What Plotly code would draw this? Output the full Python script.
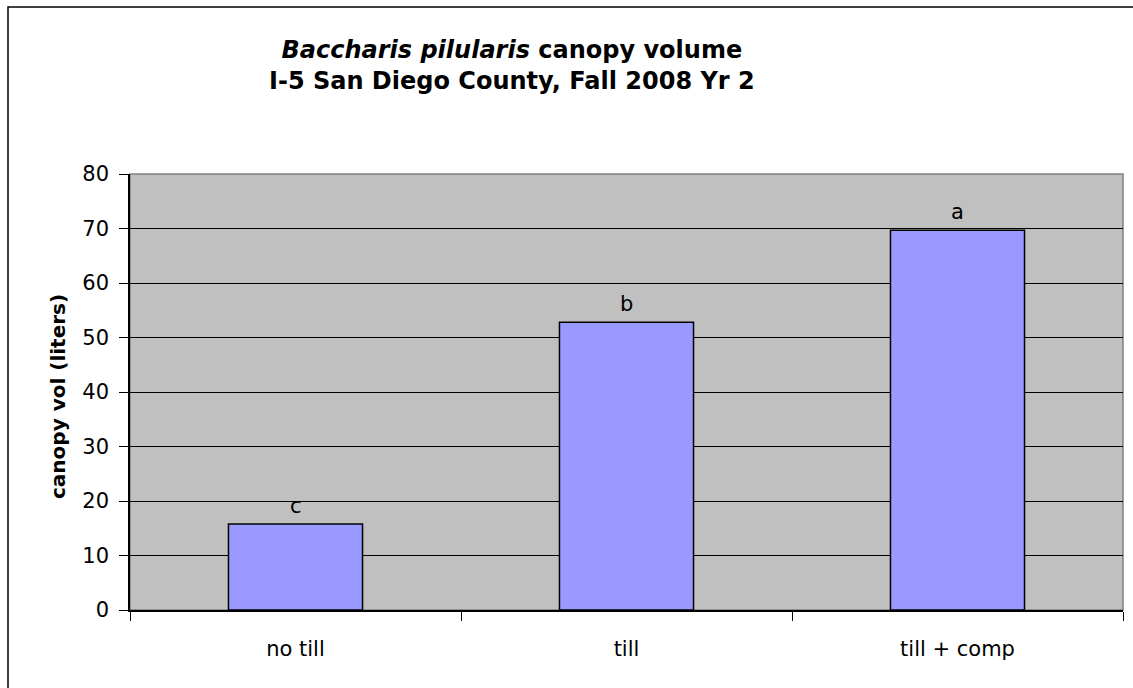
import plotly.graph_objects as go

# canopy volume per treatment
treatments = ["no till", "till", "till + comp"]
canopy_vol = [15.8, 52.8, 69.7]
sig_letters = ["c", "b", "a"]

W, H = 1133, 688
L, R, T, B = 130, 10, 174, 78
FONT = "DejaVu Sans, Liberation Sans, Arial"

fig = go.Figure()
fig.add_trace(go.Bar(
    x=treatments, y=canopy_vol,
    marker=dict(color="#9999FF", line=dict(color="black", width=1.5)),
))

# significance letters over each bar
for cat, val, letter in zip(treatments, canopy_vol, sig_letters):
    fig.add_annotation(x=cat, y=val, text=letter, showarrow=False,
                       yanchor="bottom", yshift=4, font=dict(size=21))

pw = W - L - R
ph = H - T - B

def px_x(x):
    return (x - L) / pw

def px_y(y):
    return (H - B - y) / ph

fig.update_layout(
    width=W, height=H,
    margin=dict(l=L, r=R, t=T, b=B),
    paper_bgcolor="white", plot_bgcolor="#C0C0C0",
    bargap=0.595,
    showlegend=False,
    font=dict(family=FONT, size=21, color="black"),
    xaxis=dict(showgrid=False, ticks="outside", tickson="boundaries", ticklen=9,
               tickcolor="black", showline=True, linecolor="black", linewidth=1.5,
               tickfont=dict(size=21), ticklabelstandoff=19),
    yaxis=dict(range=[0, 80], dtick=10, showgrid=True, gridcolor="black", gridwidth=1,
               ticks="outside", ticklen=9, tickcolor="black", showline=True,
               linecolor="black", linewidth=1.5, zeroline=False,
               tickfont=dict(size=21), ticklabelstandoff=6),
)

# grey frame of plot area
fig.add_shape(type="rect", xref="paper", yref="paper", x0=0, x1=1, y0=0, y1=1,
              line=dict(color="#808080", width=1.5), layer="below")
# outer chart border (right/bottom fall outside the picture)
fig.add_shape(type="rect", xref="paper", yref="paper",
              x0=px_x(8), x1=px_x(W + 20), y0=px_y(H + 20), y1=px_y(7),
              line=dict(color="black", width=1.5))

fig.add_annotation(
    xref="paper", yref="paper", x=px_x(512), y=px_y(66),
    xanchor="center", yanchor="middle", showarrow=False,
    text="<b><i>Baccharis pilularis</i> canopy volume</b><br><b>I-5 San Diego County, Fall 2008 Yr 2</b>",
    font=dict(size=24), align="center",
)
fig.add_annotation(
    xref="paper", yref="paper", x=px_x(58), y=px_y(397),
    xanchor="center", yanchor="middle", showarrow=False, textangle=-90,
    text="<b>canopy vol (liters)</b>", font=dict(size=20),
)

fig.write_html("out.html", config={"displayModeBar": False},
               post_script="document.body.style.margin='0';")
